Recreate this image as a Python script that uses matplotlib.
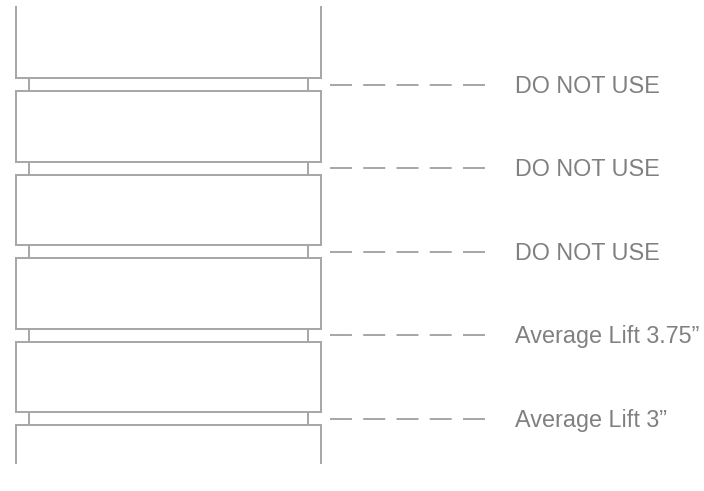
import matplotlib
matplotlib.use("Agg")
import matplotlib.pyplot as plt

# Data: labels for each gap (top to bottom) and the gap centre positions (px)
labels = ["DO NOT USE", "DO NOT USE", "DO NOT USE", "Average Lift 3.75\u201d", "Average Lift 3\u201d"]
levels = [84.5, 168.0, 251.5, 335.0, 418.5]

W, H = 704, 491
fig = plt.figure(figsize=(W / 100, H / 100), dpi=100)
ax = fig.add_axes([0, 0, 1, 1])
ax.set_xlim(0, W)
ax.set_ylim(H, 0)
ax.axis("off")

line_c = "#a6a6a6"
text_c = "#808080"
lw = 1.4

x_l, x_r = 15.5, 320.5
c_l, c_r = 28.5, 307.5
half_gap = 6.5
top_y, bot_y = 7, 463

# blocks
edges = [top_y]
for lv in levels:
    edges += [lv - half_gap, lv + half_gap]
edges.append(bot_y)
for i in range(0, len(edges), 2):
    y0, y1 = edges[i], edges[i + 1]
    ax.plot([x_l, x_l], [y0, y1], color=line_c, lw=lw, solid_capstyle="projecting")
    ax.plot([x_r, x_r], [y0, y1], color=line_c, lw=lw, solid_capstyle="projecting")
    if i > 0:
        ax.plot([x_l, x_r], [y0, y0], color=line_c, lw=lw, solid_capstyle="projecting")
    if i + 1 < len(edges) - 1:
        ax.plot([x_l, x_r], [y1, y1], color=line_c, lw=lw, solid_capstyle="projecting")

# connectors, dashes and labels
for lv, lab in zip(levels, labels):
    ax.plot([c_l, c_l], [lv - half_gap, lv + half_gap], color=line_c, lw=lw)
    ax.plot([c_r, c_r], [lv - half_gap, lv + half_gap], color=line_c, lw=lw)
    ax.plot([330, 486], [lv, lv], color=line_c, lw=lw, dashes=(11.3, 5.8), dash_capstyle="butt")
    ax.text(515, lv + 8, lab, color=text_c, fontsize=16.8, family="Liberation Sans",
            ha="left", va="baseline")

fig.savefig("out.png", dpi=100)
